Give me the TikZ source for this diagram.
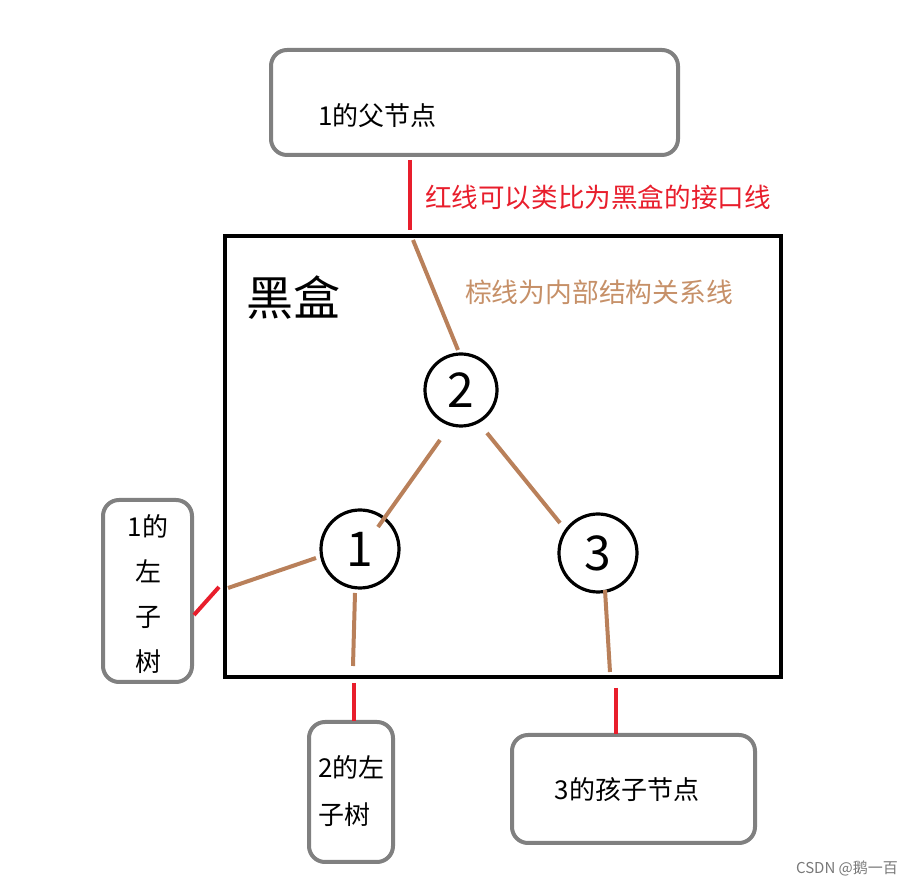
\documentclass[tikz,border=0pt]{standalone}
\usepackage{fontspec}
\setmainfont{Noto Sans CJK SC}
\usetikzlibrary{positioning,calc}
\definecolor{boxgray}{RGB}{128,128,128}
\definecolor{linered}{RGB}{232,30,44}
\definecolor{linebrown}{RGB}{185,128,90}
\definecolor{textbrown}{RGB}{198,144,104}
\definecolor{markgray}{RGB}{120,120,120}

\begin{document}
\begin{tikzpicture}[x=0.5pt,y=-0.5pt,
    outbox/.style={draw=boxgray,line width=2pt,rounded corners=8pt,inner sep=0pt},
    treenode/.style={circle,draw,line width=1.6pt,inner sep=0pt,font=\fontsize{24}{24}\selectfont},
    brownln/.style={linebrown,line width=2pt},
    redln/.style={linered,line width=2pt},
    txt/.style={font=\fontsize{13}{16}\selectfont}]
    \useasboundingbox (0,0) rectangle (912,886);
    % Black box
    \node[draw,line width=2pt,minimum width=278pt,minimum height=220.5pt] (blackbox) at (503,456.5) {};
    \node[font=\fontsize{23.5}{24}\selectfont] (bbtitle) at (293,298) {黑盒};
    \node[txt,text=textbrown,font=\fontsize{13.4}{16}\selectfont] (browntxt) at (599,292) {棕线为内部结构关系线};
    % Outer boxes
    \node[outbox,minimum width=203.5pt,minimum height=52.5pt] (parent) at (474.5,102.5) {};
    \node[txt,anchor=west] (parenttxt) at (311,116) {1的父节点};
    \node[outbox,minimum width=44.5pt,minimum height=91pt] (left1) at (147.5,591) {};
    \node[txt,align=center,font=\fontsize{13}{22.5}\selectfont] (left1txt) at (148,594) {1的\\左\\子\\树};
    \node[outbox,minimum width=42pt,minimum height=70pt] (left2) at (351,792) {};
    \node[txt,align=left,anchor=west,font=\fontsize{13}{23.5}\selectfont] (left2txt) at (311,791) {2的左\\子树};
    \node[outbox,minimum width=121.5pt,minimum height=54pt] (kids3) at (633.5,789) {};
    \node[txt] (kids3txt) at (627,790) {3的孩子节点};
    \node[txt,text=linered,anchor=west,font=\fontsize{13.3}{16}\selectfont] (redtxt) at (418,197) {红线可以类比为黑盒的接口线};
    % Tree nodes
    \node[treenode,minimum size=36pt] (n2) at (461,390) {2};
    \node[treenode,minimum size=39pt] (n1) at (360,549) {1};
    \node[treenode,minimum size=39pt] (n3) at (598,553) {3};
    % End points of the lines
    \coordinate (in2) at (413,240);   \coordinate (out2) at (458,350);
    \coordinate (a21) at (440,440);   \coordinate (b21) at (378,527);
    \coordinate (a23) at (487,433);   \coordinate (b23) at (560,523);
    \coordinate (a1l) at (316,558);   \coordinate (b1l) at (228,588);
    \coordinate (a1d) at (355,593);   \coordinate (b1d) at (353,666);
    \coordinate (a3d) at (605,590);   \coordinate (b3d) at (610,672);
    \coordinate (rt1) at (410,160);   \coordinate (rt2) at (410,230);
    \coordinate (rl1) at (219,587);   \coordinate (rl2) at (194,615);
    \coordinate (r1a) at (354,683);   \coordinate (r1b) at (354,721);
    \coordinate (r3a) at (616,688);   \coordinate (r3b) at (616,734);
    % Brown lines
    \foreach \s/\e in {in2/out2,a21/b21,a23/b23,a1l/b1l,a1d/b1d,a3d/b3d}{
        \draw[brownln] (\s) -- (\e);
    }
    % Red lines
    \foreach \s/\e in {rt1/rt2,rl1/rl2,r1a/r1b,r3a/r3b}{
        \draw[redln] (\s) -- (\e);
    }
    \node[text=markgray,font=\fontsize{7.5}{9}\selectfont] (mark) at (847,868) {CSDN @鹅一百};
\end{tikzpicture}
\end{document}
